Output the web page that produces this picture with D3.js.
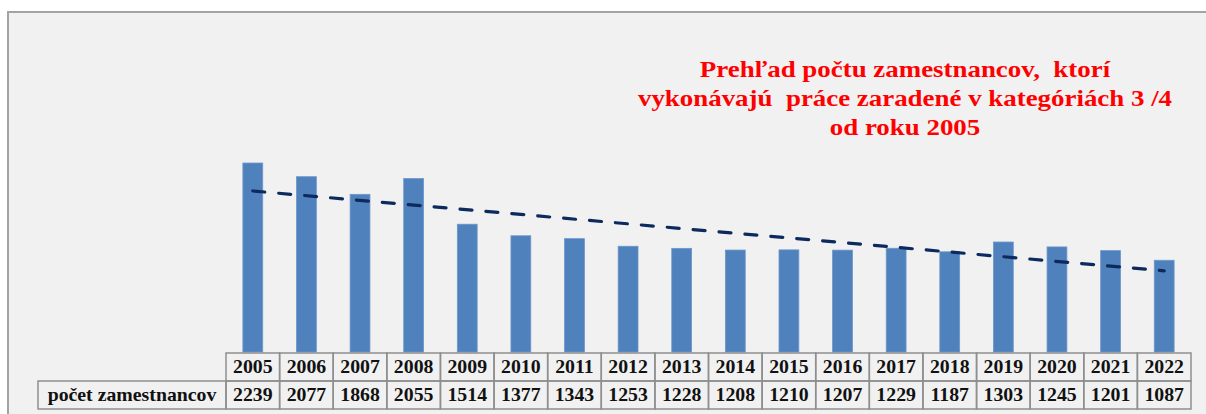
<!DOCTYPE html>
<html lang="sk">
<head>
    <meta charset="UTF-8">
    <title>Prehľad počtu zamestnancov</title>
    <script src="https://cdnjs.cloudflare.com/ajax/libs/d3/7.8.5/d3.min.js"></script>
    <style>
        body {
            margin: 0;
            background: #ffffff;
        }
        svg text {
            font-family: "Liberation Serif", "Times New Roman", serif;
            font-weight: bold;
        }
    </style>
</head>
<body>
    <div id="chart"></div>

    <script>
        const years = ["2005", "2006", "2007", "2008", "2009", "2010", "2011", "2012", "2013",
                       "2014", "2015", "2016", "2017", "2018", "2019", "2020", "2021", "2022"];
        const employees = [2239, 2077, 1868, 2055, 1514, 1377, 1343, 1253, 1228,
                           1208, 1210, 1207, 1229, 1187, 1303, 1245, 1201, 1087];
        const rowLabel = "počet zamestnancov";
        const titleLines = [
            "Prehľad počtu zamestnancov,  ktorí",
            "vykonávajú  práce zaradené v kategóriách 3 /4",
            "od roku 2005"
        ];

        const width = 1206, height = 414;
        const tableLeft = 226, tableRight = 1191, labelLeft = 38;
        const rowTop = 353, rowH = 28;
        const plotBottom = rowTop - 1;

        const svg = d3.select("#chart")
            .append("svg")
            .attr("width", width)
            .attr("height", height);

        // chart area frame
        svg.append("rect")
            .attr("x", 8).attr("y", 12)
            .attr("width", width + 20).attr("height", height + 20)
            .attr("fill", "#f1f1f1")
            .attr("stroke", "#a3a3a3")
            .attr("stroke-width", 2);

        const xCol = d3.scaleBand().domain(years).range([tableLeft, tableRight]);
        const xBar = d3.scaleBand().domain(years).range([tableLeft, tableRight])
            .paddingInner(0.63).paddingOuter(0.315);
        const y = d3.scaleLinear().domain([0, 2500]).range([plotBottom, plotBottom - 211]);

        svg.append("g")
            .selectAll("rect")
            .data(employees)
            .join("rect")
            .attr("x", (d, i) => xBar(years[i]))
            .attr("y", d => y(d))
            .attr("width", xBar.bandwidth())
            .attr("height", d => y(0) - y(d))
            .attr("fill", "#4f81bd")
            .attr("stroke", "#6c96c9")
            .attr("stroke-width", 0.8);

        // linear trendline (least squares, like Excel)
        const n = employees.length;
        const mx = d3.mean(employees, (d, i) => i);
        const my = d3.mean(employees);
        const sxy = d3.sum(employees, (d, i) => (i - mx) * (d - my));
        const sxx = d3.sum(employees, (d, i) => (i - mx) * (i - mx));
        const slope = sxy / sxx;
        const intercept = my - slope * mx;
        const trend = [0, n - 1].map(i => [xCol(years[i]) + xCol.bandwidth() / 2, y(intercept + slope * i)]);

        svg.append("path")
            .datum(trend)
            .attr("d", d3.line())
            .attr("fill", "none")
            .attr("stroke", "#0c2a5e")
            .attr("stroke-width", 3.2)
            .attr("stroke-linecap", "round")
            .attr("stroke-dasharray", "12,14");

        // title (the original is a bit stretched sideways)
        svg.append("g")
            .attr("transform", "translate(905,0) scale(1.17,1)")
            .selectAll("text")
            .data(titleLines)
            .join("text")
            .attr("x", 0)
            .attr("y", (d, i) => 77 + i * 29)
            .attr("text-anchor", "middle")
            .attr("fill", "#ff0000")
            .attr("font-size", 23)
            .style("white-space", "pre")
            .text(d => d);

        // data table
        const table = svg.append("g")
            .attr("fill", "none")
            .attr("stroke", "#8e8e8e")
            .attr("stroke-width", 1.5);

        table.selectAll(".head")
            .data(years)
            .join("rect")
            .attr("class", "head")
            .attr("x", d => xCol(d))
            .attr("y", rowTop)
            .attr("width", xCol.bandwidth())
            .attr("height", rowH);

        table.selectAll(".val")
            .data(years)
            .join("rect")
            .attr("class", "val")
            .attr("x", d => xCol(d))
            .attr("y", rowTop + rowH)
            .attr("width", xCol.bandwidth())
            .attr("height", rowH);

        table.append("rect")
            .attr("x", labelLeft)
            .attr("y", rowTop + rowH)
            .attr("width", tableLeft - labelLeft)
            .attr("height", rowH);

        const sx = 1.1;
        const cellText = svg.append("g")
            .attr("fill", "#111111")
            .attr("font-size", 18);

        const stretched = (sel, cx, cy) => sel
            .attr("x", 0).attr("y", 0)
            .attr("text-anchor", "middle")
            .attr("transform", (d, i) => `translate(${cx(d, i)},${cy}) scale(${sx},1)`);

        cellText.selectAll(".year")
            .data(years)
            .join("text")
            .call(stretched, d => xCol(d) + xCol.bandwidth() / 2, rowTop + rowH / 2 + 6)
            .text(d => d);

        cellText.selectAll(".num")
            .data(employees)
            .join("text")
            .call(stretched, (d, i) => xCol(years[i]) + xCol.bandwidth() / 2, rowTop + rowH * 1.5 + 6)
            .text(d => d);

        cellText.append("text")
            .datum(rowLabel)
            .call(stretched, () => (labelLeft + tableLeft) / 2, rowTop + rowH * 1.5 + 6)
            .text(d => d);
    </script>
</body>
</html>
